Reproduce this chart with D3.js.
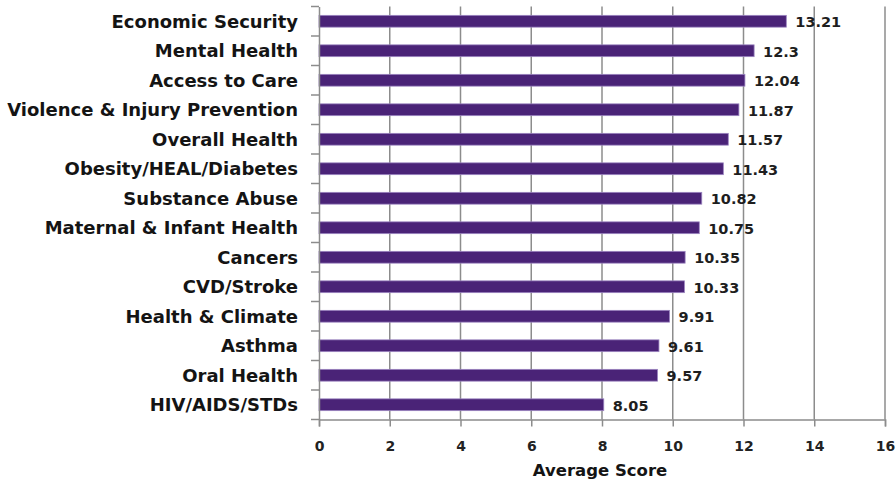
<!DOCTYPE html>
<html>
<head>
<meta charset="utf-8">
<script src="https://cdn.jsdelivr.net/npm/d3@7/dist/d3.min.js"></script>
<style>
  html, body { margin: 0; padding: 0; background: #fff; }
  svg text { font-family: "DejaVu Sans", sans-serif; }
</style>
</head>
<body>
<svg id="chart" width="896" height="482"></svg>
<script>
const categories = [
  "Economic Security", "Mental Health", "Access to Care", "Violence & Injury Prevention",
  "Overall Health", "Obesity/HEAL/Diabetes", "Substance Abuse", "Maternal & Infant Health",
  "Cancers", "CVD/Stroke", "Health & Climate", "Asthma", "Oral Health", "HIV/AIDS/STDs"
];
const scores = [13.21, 12.3, 12.04, 11.87, 11.57, 11.43, 10.82, 10.75, 10.35, 10.33, 9.91, 9.61, 9.57, 8.05];
const scoreLabels = ["13.21", "12.3", "12.04", "11.87", "11.57", "11.43", "10.82", "10.75", "10.35", "10.33", "9.91", "9.61", "9.57", "8.05"];
const xTicks = [0, 2, 4, 6, 8, 10, 12, 14, 16];

const svg = d3.select("#chart");
const plotLeft = 319, plotRight = 885, plotTop = 6.5, plotBottom = 419.5;
const fontFamily = "'DejaVu Sans', sans-serif";

const x = d3.scaleLinear().domain([0, 16]).range([plotLeft, plotRight]);
const y = d3.scaleBand().domain(categories).range([plotTop, plotBottom]).paddingInner(0.6).paddingOuter(0.3);

// vertical gridlines
svg.append("g").selectAll("line").data(xTicks.slice(1)).join("line")
  .attr("x1", d => x(d)).attr("x2", d => x(d))
  .attr("y1", plotTop).attr("y2", plotBottom)
  .attr("stroke", "#8c8c8c").attr("stroke-width", 1.5);

// bars
svg.append("g").selectAll("rect").data(categories).join("rect")
  .attr("x", x(0))
  .attr("y", d => y(d))
  .attr("width", (d, i) => x(scores[i]) - x(0))
  .attr("height", y.bandwidth())
  .attr("fill", "#4a2377")
  .attr("stroke", "#9b84c0").attr("stroke-width", 0.8);

// value labels
svg.append("g").selectAll("text").data(categories).join("text")
  .attr("x", (d, i) => x(scores[i]) + 9)
  .attr("y", d => y(d) + y.bandwidth() / 2 + 6)
  .attr("font-family", fontFamily)
  .attr("font-size", 14.5).attr("font-weight", 700).attr("fill", "#1e1e1e")
  .text((d, i) => scoreLabels[i]);

// y axis
const yAxis = d3.axisLeft(y).tickSize(0).tickPadding(21);
const gy = svg.append("g").attr("transform", `translate(${plotLeft},0)`).call(yAxis);
gy.select(".domain").attr("stroke", "#8c8c8c").attr("stroke-width", 1.5);
gy.selectAll("text").attr("font-size", 18).attr("font-weight", 700).attr("fill", "#141414")
  .attr("dy", "0.37em")
  .attr("font-family", fontFamily);
// category separator ticks
const sepY = categories.map(c => y(c) - y.step() * y.paddingInner() / 2);
sepY.push(plotBottom);
svg.append("g").selectAll("line").data(sepY).join("line")
  .attr("x1", plotLeft - 8).attr("x2", plotLeft)
  .attr("y1", d => d).attr("y2", d => d)
  .attr("stroke", "#8c8c8c").attr("stroke-width", 1.5);

// x axis
const xAxis = d3.axisBottom(x).tickValues(xTicks).tickSize(7).tickPadding(15).tickFormat(d3.format("d"));
const gx = svg.append("g").attr("transform", `translate(0,${plotBottom})`).call(xAxis);
gx.select(".domain").attr("stroke", "#8c8c8c").attr("stroke-width", 1.5);
gx.selectAll(".tick line").attr("stroke", "#8c8c8c").attr("stroke-width", 1.5);
gx.selectAll("text").attr("font-size", 14).attr("font-weight", 700).attr("fill", "#222")
  .attr("font-family", fontFamily);

svg.append("text")
  .attr("x", 600).attr("y", 476)
  .attr("text-anchor", "middle")
  .attr("font-family", fontFamily)
  .attr("font-size", 16.5).attr("font-weight", 700).attr("fill", "#141414")
  .text("Average Score");
</script>
</body>
</html>
